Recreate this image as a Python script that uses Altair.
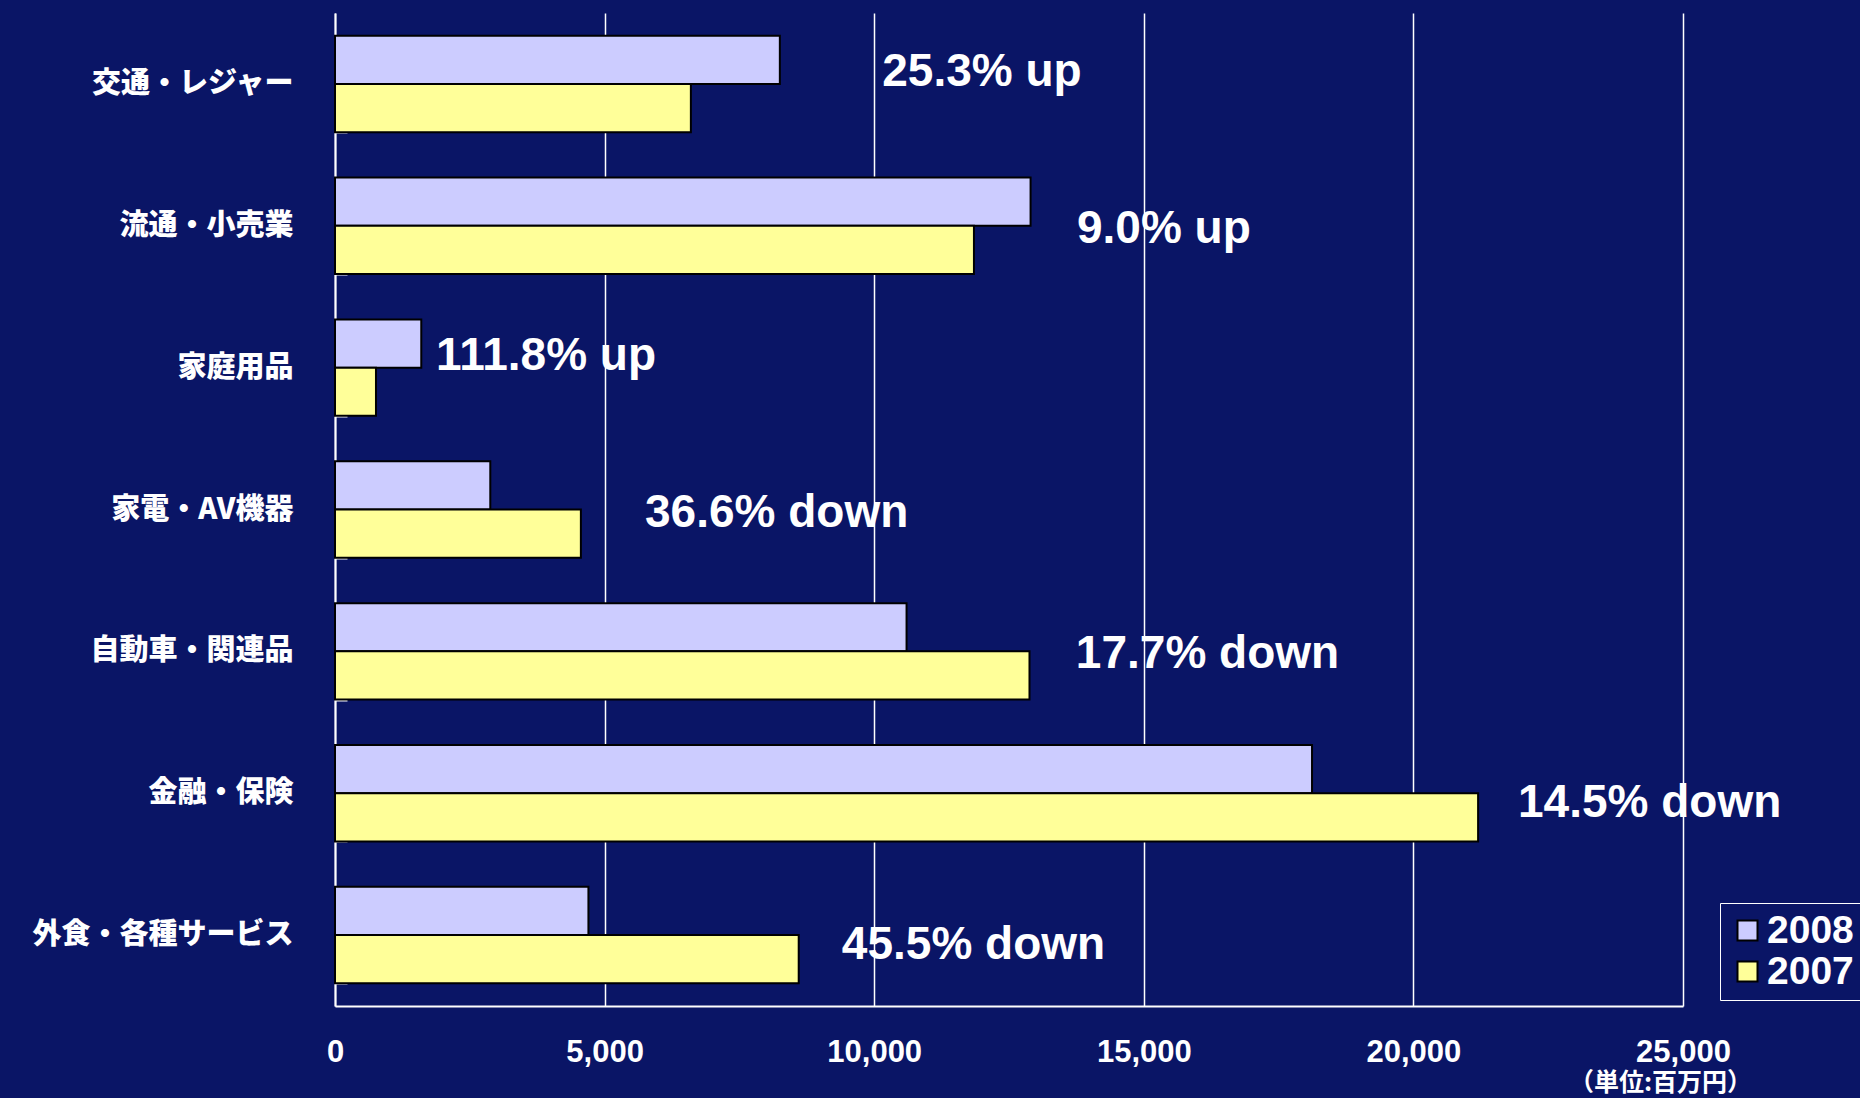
import sys
import altair as alt
import pandas as pd

categories = ["交通・レジャー", "流通・小売業", "家庭用品", "家電・AV機器",
              "自動車・関連品", "金融・保険", "外食・各種サービス"]
years = ["2008", "2007"]
values_2008 = [8250, 12900, 1600, 2880, 10600, 18120, 4700]
values_2007 = [6600, 11850, 760, 4560, 12880, 21200, 8600]
change_labels = ["25.3% up", "9.0% up", "111.8% up", "36.6% down",
                 "17.7% down", "14.5% down", "45.5% down"]
label_x = [10150, 13760, 1875, 5750, 13740, 21940, 9400]
label_row = ["upper", "middle", "upper", "middle", "middle", "lower", "lower"]
x_ticks = [0, 5000, 10000, 15000, 20000, 25000]
unit_text = "（単位:百万円）"

BG = "#0A1566"
SANS = "Liberation Sans, Arial, sans-serif"
CJK = "Noto Sans CJK JP"

# page background / margin (the chart fills the whole window)
PAGE_CSS = ("<style>html,body{margin:0;padding:0;overflow:hidden;"
            "background:" + BG + ";}</style>")


def _make_patch(orig):
    def _patched(*args, **kwargs):
        html = orig(*args, **kwargs)
        if isinstance(html, str):
            if "<head>" in html:
                return html.replace("<head>", "<head>" + PAGE_CSS, 1)
            return PAGE_CSS + html
        return html
    return _patched


try:
    import altair.utils.html  # noqa: F401
    import altair.utils.save  # noqa: F401
except Exception:
    pass
_orig_fn = None
_html_mod = sys.modules.get("altair.utils.html")
if _html_mod is not None and hasattr(_html_mod, "spec_to_html"):
    _orig_fn = _html_mod.spec_to_html
if _orig_fn is not None:
    _patched_fn = _make_patch(_orig_fn)
    for _name, _mod in list(sys.modules.items()):
        if _name.startswith("altair") and _mod is not None:
            try:
                if getattr(_mod, "spec_to_html", None) is _orig_fn:
                    setattr(_mod, "spec_to_html", _patched_fn)
            except Exception:
                pass

rows = []
for c, a, b in zip(categories, values_2008, values_2007):
    rows.append({"cat": c, "year": "2008", "value": a})
    rows.append({"cat": c, "year": "2007", "value": b})
bars_df = pd.DataFrame(rows)
labels_df = pd.DataFrame({"cat": categories, "label": change_labels,
                          "lx": label_x, "row": label_row})

W, H = 1348, 993

y_scale = alt.Scale(domain=categories, paddingInner=0.32, paddingOuter=0.16)
x_scale = alt.Scale(domain=[0, 25000], nice=False)

x_axis = alt.Axis(values=x_ticks, labelExpr="format(datum.value, ',')",
                  title=unit_text,
                  titleFont=CJK, titleFontSize=25, titleFontWeight="bold",
                  titleColor="white", titleX=1325, titleY=76,
                  titleAlign="center", titleBaseline="middle",
                  titleAnchor="start",
                  labelFont=SANS, labelFontSize=31,
                  labelFontWeight="bold", labelColor="white",
                  labelPadding=31, labelFlush=False, ticks=False,
                  domainColor="white", domainWidth=2,
                  grid=True, gridColor="white", gridWidth=1.5)

bars = alt.Chart(bars_df).mark_bar(stroke="black", strokeWidth=2).encode(
    y=alt.Y("cat:N", scale=y_scale, sort=categories,
            axis=alt.Axis(title=None, labelFont=CJK, labelFontSize=29,
                          labelFontWeight=900, labelColor="white",
                          labelLimit=0, labelPadding=42, ticks=False,
                          domain=True, domainColor="white", domainWidth=2,
                          grid=False)),
    yOffset=alt.YOffset("year:N", sort=years,
                        scale=alt.Scale(paddingInner=0, paddingOuter=0)),
    x=alt.X("value:Q", scale=x_scale, axis=x_axis),
    color=alt.Color("year:N", sort=years,
                    scale=alt.Scale(domain=years, range=["#CCCCFF", "#FFFF99"]),
                    legend=alt.Legend(title=None, orient="none",
                                      legendX=1385, legendY=890,
                                      symbolType="square", symbolSize=400,
                                      symbolStrokeColor="black",
                                      symbolStrokeWidth=2, symbolOpacity=1,
                                      labelFont=SANS,
                                      labelFontSize=39, labelFontWeight="bold",
                                      labelColor="white", labelOffset=0,
                                      rowPadding=1, padding=8,
                                      strokeColor="white", fillColor=BG)),
)


def label_layer(row, dy, with_tick_axis):
    if with_tick_axis:
        y_axis = alt.Axis(orient="right", offset=-W, labels=False, domain=False,
                          grid=False, ticks=True, tickBand="extent",
                          tickSize=12, tickColor="white", tickWidth=2,
                          title=None)
    else:
        y_axis = None
    return alt.Chart(labels_df).transform_filter(
        alt.datum.row == row
    ).mark_text(
        align="left", baseline="middle", font=SANS, fontSize=46,
        fontWeight="bold", color="white", dy=dy
    ).encode(
        y=alt.Y("cat:N", scale=y_scale, sort=categories, axis=y_axis),
        x=alt.X("lx:Q", scale=x_scale, axis=x_axis),
        text="label:N",
    )


chart = alt.layer(
    bars,
    label_layer("upper", -12, True),
    label_layer("middle", 3, False),
    label_layer("lower", 10, False),
).resolve_axis(y="independent").properties(
    width=W, height=H, background=BG,
    padding={"left": 335, "top": 13, "right": 177, "bottom": 92},
    autosize=alt.AutoSizeParams(type="none"),
).configure_view(stroke=None)

chart.save("out.html", embed_options={"renderer": "svg", "actions": False})
